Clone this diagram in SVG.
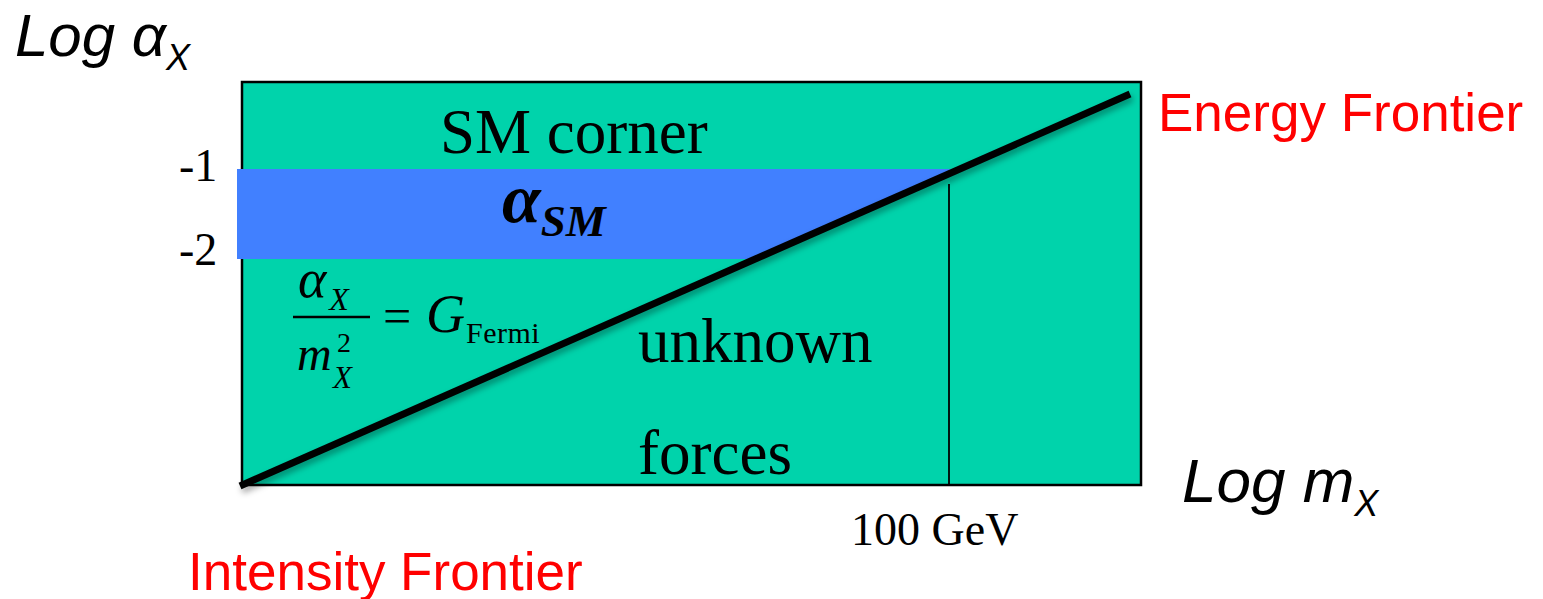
<svg xmlns="http://www.w3.org/2000/svg" width="1543" height="599" viewBox="0 0 1543 599">
<defs>
<style>
.sans{font-family:"Liberation Sans",Arial,sans-serif;}
.serif{font-family:"Liberation Serif","Times New Roman",serif;}
.axis{font-style:italic;font-size:62px;fill:#000;}
.sub{font-style:italic;font-size:36px;}
.red{font-size:53px;fill:#FF0000;}
.big{font-size:63px;fill:#000;}
.tick{font-size:46px;fill:#000;}
</style>
<filter id="shadow" x="-10%" y="-10%" width="120%" height="130%">
<feDropShadow dx="2" dy="4" stdDeviation="3" flood-color="#000" flood-opacity="0.35"/>
</filter>
</defs>
<rect width="1543" height="599" fill="#fff"/>
<g id="plot-box">
<rect x="242" y="82" width="899" height="403" fill="#00D3AB" stroke="#000" stroke-width="2.5"/>
</g>
<g id="sm-band">
<polygon points="237,169 958,169 752,259 237,259" fill="#4180FF"/>
</g>
<g id="connectors">
<line x1="949" y1="184" x2="949" y2="485" stroke="#000" stroke-width="1.8"/>
<line x1="240" y1="486" x2="1130" y2="94" stroke="#000" stroke-width="7" filter="url(#shadow)"/>
</g>
<g id="y-axis-label">
<text x="15" y="56" class="sans" font-style="italic" font-size="60">Log <tspan>α</tspan><tspan class="sub" dy="14">X</tspan></text>
</g>
<g id="x-axis-label">
<text x="1182" y="502" class="sans axis">Log m<tspan class="sub" dy="14">X</tspan></text>
</g>
<g id="energy-frontier">
<text x="1158" y="131" class="sans red">Energy Frontier</text>
</g>
<g id="intensity-frontier">
<text x="188" y="590" class="sans red">Intensity Frontier</text>
</g>
<g id="ticks">
<text x="179" y="181" class="serif tick">-1</text>
<text x="179" y="265" class="serif tick">-2</text>
<text x="851" y="545" class="serif tick">100 GeV</text>
</g>
<g id="sm-corner">
<text x="440" y="153" class="serif big">SM corner</text>
</g>
<g id="alpha-sm">
<text x="502" y="222" class="serif" font-weight="bold" font-style="italic" font-size="70">α<tspan font-size="45" dy="14">SM</tspan></text>
</g>
<g id="unknown-forces">
<text x="638" y="362" class="serif big">unknown</text>
<text x="638" y="474" class="serif big">forces</text>
</g>
<g id="gfermi-formula">
<text x="298" y="297" class="serif" font-style="italic" font-size="54">α<tspan font-size="32" dx="3" dy="13">X</tspan></text>
<line x1="293" y1="317" x2="370" y2="317" stroke="#000" stroke-width="2.5"/>
<text x="297" y="370" class="serif" font-style="italic" font-size="48">m</text>
<text x="337" y="352" class="serif" font-size="28">2</text>
<text x="333" y="388" class="serif" font-style="italic" font-size="31">X</text>
<text x="383" y="333" class="serif" font-size="50">=</text>
<text x="426" y="332" class="serif" font-style="italic" font-size="54">G</text>
<text x="466" y="343" class="serif" font-size="30" letter-spacing="0.5">Fermi</text>
</g>
</svg>
